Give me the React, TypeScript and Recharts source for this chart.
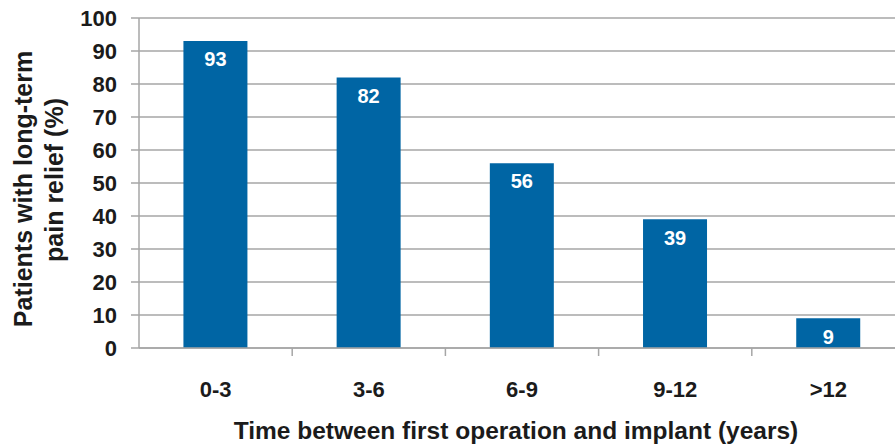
import { Bar, BarChart, CartesianGrid, LabelList, XAxis, YAxis } from 'recharts'

const categories = ['0-3', '3-6', '6-9', '9-12', '>12']
const reliefPct = [93, 82, 56, 39, 9]
const yTicks = [0, 10, 20, 30, 40, 50, 60, 70, 80, 90, 100]

const FONT = 'Liberation Sans, Arial, sans-serif'
const INK = '#1b1b1b'
const BAR = '#0065a4'
const GRID = '#a6a6a6'

const data = categories.map((c, i) => ({ cat: c, value: reliefPct[i] }))

function XTick(props: any) {
  const { x, y, payload } = props
  const off = payload?.offset ?? 0
  return (
    <g>
      {off > 0 && payload.index > 0 && (
        <line x1={x - off} x2={x - off} y1={y} y2={y + 8} stroke={GRID} strokeWidth={1.5} />
      )}
      <text
        x={x}
        y={y + 49}
        textAnchor="middle"
        fontFamily={FONT}
        fontWeight="bold"
        fontSize={22}
        fill={INK}
      >
        {payload.value}
      </text>
    </g>
  )
}

function YTitle() {
  return (
    <g fontFamily={FONT} fontWeight="bold" fontSize={25} fill={INK}>
      <text transform="translate(32, 189) rotate(-90)" textAnchor="middle">
        Patients with long-term
      </text>
      <text transform="translate(63, 180) rotate(-90)" textAnchor="middle">
        pain relief (%)
      </text>
    </g>
  )
}

function XTitle() {
  return (
    <text
      x={516}
      y={439}
      textAnchor="middle"
      fontFamily={FONT}
      fontWeight="bold"
      fontSize={24.5}
      fill={INK}
    >
      Time between first operation and implant (years)
    </text>
  )
}

export default function App() {
  return (
    <div
      style={{
        position: 'fixed',
        left: 0,
        top: 0,
        width: 895,
        height: 445,
        overflow: 'hidden',
        background: '#fff',
      }}
    >
      <BarChart
        width={920}
        height={445}
        data={data}
        margin={{ top: 18, right: 15, bottom: 0, left: 0 }}
        barCategoryGap="29%"
      >
        <CartesianGrid vertical={false} stroke={GRID} strokeWidth={1.5} />
        <XAxis
          dataKey="cat"
          height={97}
          axisLine={{ stroke: GRID, strokeWidth: 1.5 }}
          tickLine={false}
          tickSize={0}
          tickMargin={0}
          tick={<XTick />}
          interval={0}
          label={{ content: <XTitle /> }}
        />
        <YAxis
          width={139}
          domain={[0, 100]}
          ticks={yTicks}
          interval={0}
          axisLine={{ stroke: GRID, strokeWidth: 1.5 }}
          tickLine={{ stroke: GRID, strokeWidth: 1.5 }}
          tickSize={8}
          tickMargin={14}
          tick={{ fontFamily: FONT, fontWeight: 'bold', fontSize: 22, fill: INK }}
          label={{ content: <YTitle /> }}
        />
        <Bar dataKey="value" fill={BAR} isAnimationActive={false}>
          <LabelList
            dataKey="value"
            position="insideTop"
            offset={11}
            fill="#ffffff"
            fontFamily={FONT}
            fontWeight="bold"
            fontSize={20}
          />
        </Bar>
      </BarChart>
    </div>
  )
}
